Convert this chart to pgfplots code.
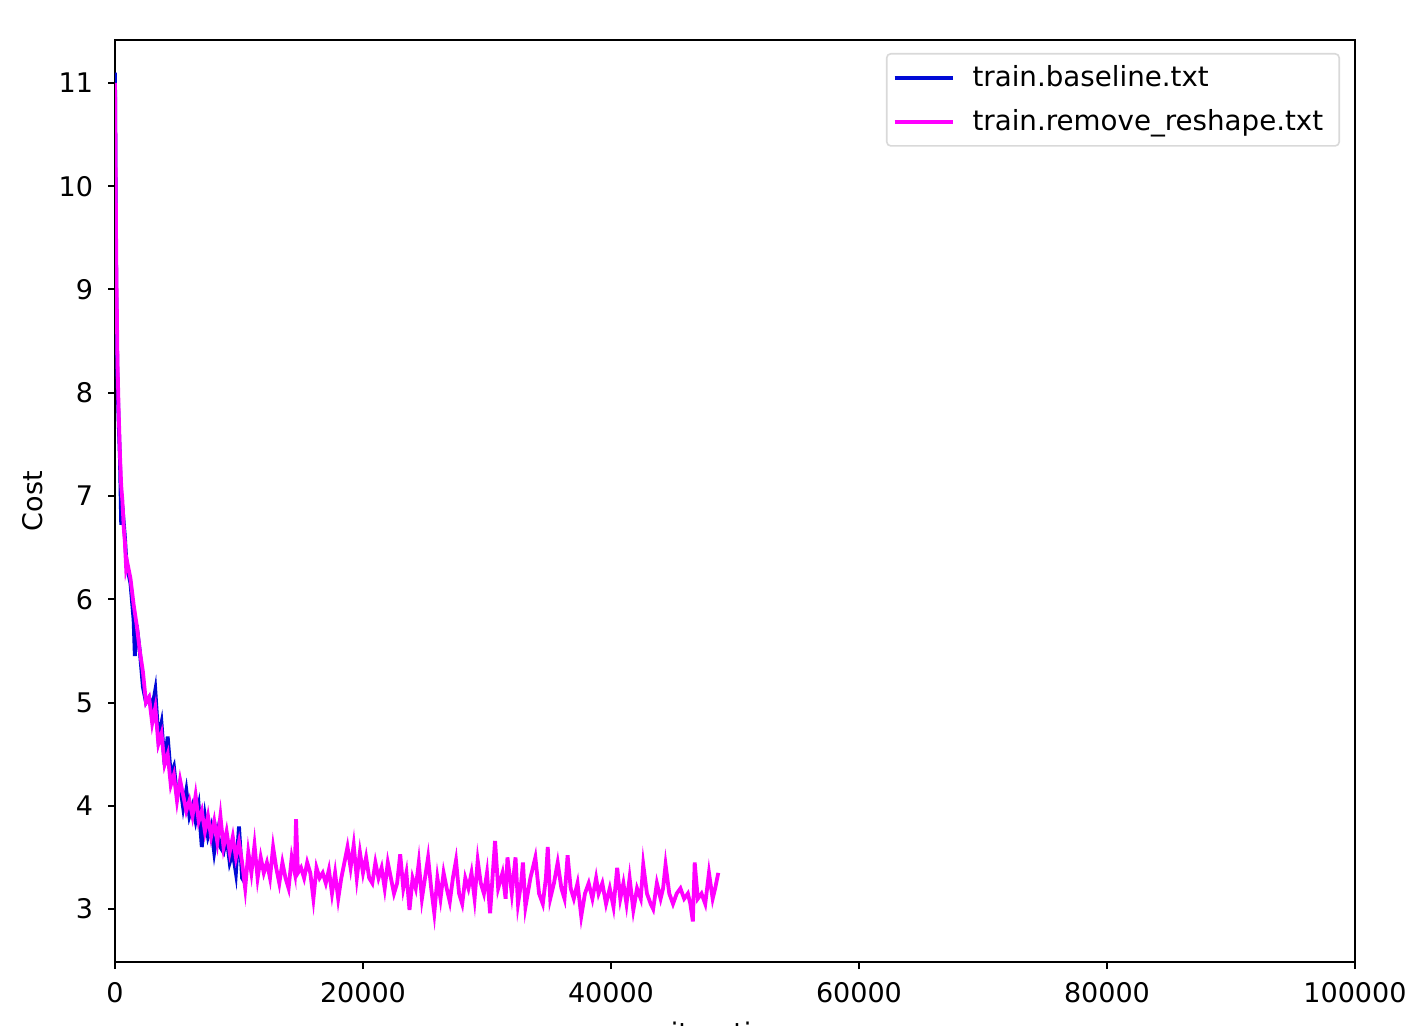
\documentclass[border=0pt]{standalone}
\usepackage{fontspec}
\setmainfont{DejaVu Sans}
\usepackage{pgfplots}
\pgfplotsset{compat=1.18}
\definecolor{mblue}{RGB}{0,10,215}
\definecolor{mmag}{RGB}{255,0,255}
\begin{document}
\begin{tikzpicture}
\path[use as bounding box] (0,0) rectangle (713pt,512.5pt);
\begin{axis}[
  at={(57.5pt,31.5pt)}, anchor=south west,
  scale only axis, width=620pt, height=461pt,
  xmin=0, xmax=100000, ymin=2.487, ymax=11.416,
  xtick={0,20000,40000,60000,80000,100000},
  ytick={3,4,5,6,7,8,9,10,11},
  scaled x ticks=false,
  /pgf/number format/fixed, /pgf/number format/1000 sep={},
  /pgf/number format/assume math mode=true,
  tick align=outside, major tick length=3.5pt,
  tick style={line width=1pt, black},
  xtick pos=bottom, ytick pos=left,
  axis line style={line width=1.1pt},
  ticklabel style={font=\fontsize{13.5}{16}\selectfont},
  xticklabel style={yshift=-3pt},
  yticklabel style={xshift=-4pt},
  xlabel={iterations}, ylabel={Cost},
  every axis x label/.style={at={([yshift=-40pt]axis description cs:0.5,0)}, anchor=base, font=\fontsize{13.5}{16}\selectfont},
  every axis y label/.style={at={([xshift=-41pt]axis description cs:0,0.5)}, anchor=center, rotate=90, font=\fontsize{13.5}{16}\selectfont},
  legend cell align=left,
  legend image code/.code={\draw[#1] (0pt,0pt) -- (29pt,0pt);},
  legend style={at={(rel axis cs:1,1)}, anchor=north east, xshift=-7.5pt, yshift=-6.5pt,
    draw=black!15, line width=0.8pt, rounded corners=2pt, inner xsep=3pt, inner ysep=4pt,
    font=\fontsize{13.85}{16}\selectfont, row sep=6pt,
    nodes={inner xsep=5pt, inner ysep=2pt}},
  legend style={/tikz/every odd column/.append style={column sep=4pt}},
]
\addplot[mblue, line width=1.9pt] coordinates {
(0,11.1) (100,9.0) (200,8.1) (300,7.7) (400,7.35) (500,6.72) (600,6.9) (700,6.75) (800,6.6) (900,6.4)
(1000,6.3) (1250,6.15) (1500,5.8) (1600,5.45) (1750,5.75) (2000,5.5) (2250,5.15) (2500,5.0) (2750,5.05)
(3000,4.95) (3250,5.12) (3500,4.65) (3750,4.8) (4000,4.4) (4250,4.67) (4500,4.3) (4750,4.38) (5000,4.1)
(5250,4.2) (5500,3.98) (5750,4.15) (6000,3.9) (6250,4.0) (6500,3.85) (6750,4.0) (7000,3.6) (7250,3.9)
(7500,3.7) (7750,3.8) (8000,3.55) (8250,3.75) (8500,3.6) (8750,3.55) (9000,3.7) (9250,3.45) (9500,3.55)
(9750,3.35) (10000,3.8) (10250,3.3) (10500,3.25)
};
\addlegendentry{train.baseline.txt}
\addplot[mmag, line width=1.9pt] coordinates {
(0,11.0) (100,9.3) (200,8.3) (300,7.8) (400,7.4) (500,7.1) (600,6.95) (700,6.7) (800,6.55) (900,6.3)
(1000,6.35) (1250,6.2) (1500,5.95) (1750,5.75) (2000,5.5) (2250,5.3) (2500,5.0) (2750,5.05) (3000,4.8)
(3250,4.95) (3500,4.6) (3750,4.7) (4000,4.4) (4250,4.5) (4500,4.2) (4750,4.3) (5000,4.05) (5250,4.25)
(5500,4.1) (5750,3.95) (6000,4.05) (6250,3.9) (6500,4.1) (6750,3.85) (7000,3.95) (7250,3.75) (7500,3.9)
(7750,3.7) (8000,3.85) (8250,3.65) (8500,3.9) (8750,3.6) (9000,3.75) (9250,3.55) (9500,3.7) (9750,3.5)
(10000,3.65) (10250,3.45) (10500,3.2) (10750,3.55) (11000,3.35) (11250,3.62) (11500,3.3) (11750,3.5)
(12000,3.35) (12250,3.45) (12500,3.3) (12750,3.6) (13000,3.4) (13250,3.25) (13500,3.45) (13750,3.3)
(14000,3.2) (14250,3.5) (14500,3.35) (14600,3.87) (14750,3.35) (15000,3.4) (15250,3.3) (15500,3.45)
(15750,3.35) (16000,3.1) (16250,3.4) (16500,3.3) (16750,3.35) (17000,3.25) (17250,3.38) (17500,3.15)
(17750,3.35) (18000,3.1) (18250,3.3) (18500,3.45) (18750,3.6) (19000,3.4) (19250,3.62) (19500,3.3)
(19750,3.55) (20000,3.35) (20250,3.5) (20500,3.3) (20750,3.25) (21000,3.45) (21250,3.3) (21500,3.4)
(21750,3.2) (22000,3.45) (22250,3.3) (22500,3.15) (22750,3.25) (23000,3.53) (23250,3.2) (23500,3.35)
(23750,2.99) (24000,3.3) (24250,3.2) (24500,3.45) (24750,3.1) (25000,3.3) (25250,3.5) (25500,3.2)
(25750,2.96) (26000,3.3) (26250,3.1) (26500,3.35) (26750,3.2) (27000,3.07) (27250,3.3) (27500,3.47)
(27750,3.15) (28000,3.05) (28250,3.3) (28500,3.2) (28750,3.35) (29000,3.1) (29250,3.47) (29500,3.25)
(29750,3.15) (30000,3.35) (30250,2.96) (30500,3.4) (30650,3.66) (30900,3.2) (31250,3.35) (31500,3.1)
(31650,3.5) (32000,3.15) (32300,3.5) (32500,3.05) (32750,3.25) (32900,3.45) (33100,3.02) (33500,3.3)
(33900,3.5) (34200,3.15) (34500,3.05) (34750,3.3) (34900,3.6) (35100,3.1) (35400,3.25) (35700,3.45)
(36000,3.2) (36250,3.1) (36500,3.52) (36750,3.2) (37000,3.1) (37300,3.25) (37600,2.93) (37900,3.15)
(38200,3.25) (38500,3.1) (38800,3.3) (39000,3.15) (39300,3.25) (39600,3.05) (39900,3.2) (40200,3.02)
(40500,3.4) (40750,3.1) (41000,3.25) (41250,3.05) (41500,3.3) (41800,2.99) (42100,3.2) (42400,3.1)
(42600,3.43) (42900,3.15) (43200,3.05) (43400,3.0) (43700,3.25) (44000,3.1) (44200,3.2) (44400,3.43)
(44700,3.15) (45000,3.05) (45300,3.15) (45600,3.2) (45900,3.1) (46200,3.15) (46400,3.05) (46600,2.88)
(46750,3.45) (47000,3.1) (47300,3.15) (47600,3.05) (47900,3.35) (48200,3.1) (48400,3.2) (48650,3.35)
};
\addlegendentry{train.remove\_reshape.txt}
\end{axis}
\end{tikzpicture}
\end{document}
